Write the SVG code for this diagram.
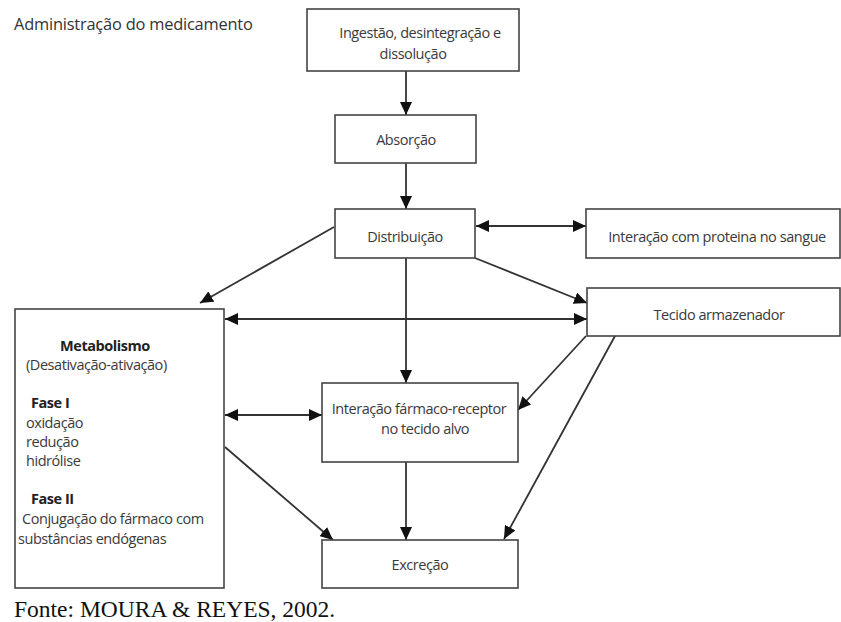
<svg xmlns="http://www.w3.org/2000/svg" width="841" height="622" viewBox="0 0 841 622">
<style>
.box{fill:#fff;stroke:#444;stroke-width:1.6}
.t{font-family:"Open Sans","DejaVu Sans",sans-serif;font-size:14.5px;fill:#3a3a3a;letter-spacing:-0.45px}
.b{font-weight:bold;fill:#222}
.c{text-anchor:middle}
.ln{stroke:#333;stroke-width:1.8;fill:none}
</style>
<defs>
<marker id="ah" markerWidth="13" markerHeight="12" refX="13" refY="6" orient="auto-start-reverse" markerUnits="userSpaceOnUse">
<path d="M0,0 L13,6 L0,12 Z" fill="#111"/>
</marker>
</defs>
<rect width="841" height="622" fill="#fff"/>
<text class="t" x="14" y="30" style="font-size:16.4px;letter-spacing:-0.2px;fill:#333">Administração do medicamento</text>
<g id="connectors">
<line class="ln" x1="406" y1="71" x2="406" y2="115" marker-end="url(#ah)"/>
<line class="ln" x1="406" y1="163" x2="406" y2="209" marker-end="url(#ah)"/>
<line class="ln" x1="476" y1="226" x2="586" y2="226" marker-start="url(#ah)" marker-end="url(#ah)"/>
<line class="ln" x1="334" y1="227" x2="200" y2="303" marker-end="url(#ah)"/>
<line class="ln" x1="475" y1="258" x2="587" y2="303" marker-end="url(#ah)"/>
<line class="ln" x1="225" y1="319" x2="587" y2="319" marker-start="url(#ah)" marker-end="url(#ah)"/>
<line class="ln" x1="406" y1="258" x2="406" y2="383" marker-end="url(#ah)"/>
<line class="ln" x1="225" y1="415" x2="322" y2="415" marker-start="url(#ah)" marker-end="url(#ah)"/>
<line class="ln" x1="586" y1="336" x2="518" y2="410" marker-end="url(#ah)"/>
<line class="ln" x1="615" y1="336" x2="504" y2="539" marker-end="url(#ah)"/>
<line class="ln" x1="225" y1="447" x2="333" y2="540" marker-end="url(#ah)"/>
<line class="ln" x1="406" y1="462" x2="406" y2="540" marker-end="url(#ah)"/>
</g>
<g id="ingestao">
<rect class="box" x="307" y="9" width="212" height="62"/>
<text class="t c" x="420" y="38">Ingestão, desintegração e</text>
<text class="t c" x="413" y="59">dissolução</text>
</g>
<g id="absorcao">
<rect class="box" x="335" y="115" width="141" height="48"/>
<text class="t c" x="406" y="145">Absorção</text>
</g>
<g id="distribuicao">
<rect class="box" x="335" y="209" width="140" height="49"/>
<text class="t c" x="405" y="242">Distribuição</text>
</g>
<g id="proteina">
<rect class="box" x="586" y="209" width="254" height="49"/>
<text class="t c" x="717" y="242">Interação com proteina no sangue</text>
</g>
<g id="tecido">
<rect class="box" x="587" y="288" width="253" height="48"/>
<text class="t c" x="719" y="320">Tecido armazenador</text>
</g>
<g id="metabolismo">
<rect class="box" x="15" y="309" width="209" height="279"/>
<text class="t b c" x="105" y="351">Metabolismo</text>
<text class="t" x="26" y="370">(Desativação-ativação)</text>
<text class="t b" x="31" y="408">Fase I</text>
<text class="t" x="26" y="428">oxidação</text>
<text class="t" x="26" y="447">redução</text>
<text class="t" x="26" y="466">hidrólise</text>
<text class="t b" x="31" y="504">Fase II</text>
<text class="t" x="22" y="524">Conjugação do fármaco com</text>
<text class="t" x="18" y="544">substâncias endógenas</text>
</g>
<g id="receptor">
<rect class="box" x="322" y="383" width="196" height="79"/>
<text class="t c" x="419" y="414">Interação fármaco-receptor</text>
<text class="t c" x="425" y="434">no tecido alvo</text>
</g>
<g id="excrecao">
<rect class="box" x="322" y="540" width="196" height="48"/>
<text class="t c" x="420" y="570">Excreção</text>
</g>
<text x="14" y="617" style="font-family:'Liberation Serif','Times New Roman',serif;font-size:23.5px;fill:#111">Fonte: MOURA &amp; REYES, 2002.</text>
</svg>
